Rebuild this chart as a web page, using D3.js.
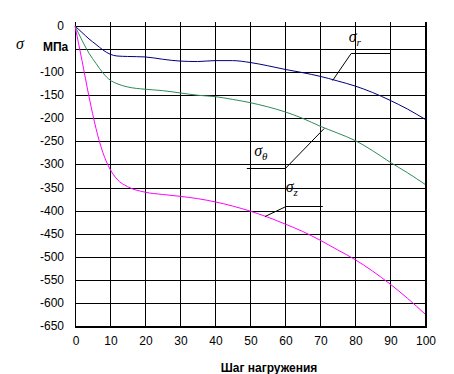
<!DOCTYPE html>
<html>
<head>
    <meta charset="UTF-8">
    <title>Напряжения</title>
    <style>
        body { margin: 0; padding: 0; background: #fff; }
        svg { display: block; }
        .tick-label { font-family: "Liberation Sans", Arial, sans-serif; font-size: 12px; fill: #000; }
        .grid line { stroke: #000; stroke-width: 1px; shape-rendering: crispEdges; }
        .curve { fill: none; stroke-width: 1px; }
        .leader { stroke: #000; stroke-width: 1px; fill: none; }
        .sig { font-family: "Liberation Serif", "Times New Roman", serif; font-style: italic; fill: #000; }
        .title { font-family: "Liberation Sans", Arial, sans-serif; font-size: 12px; font-weight: bold; fill: #000; }
    </style>
    <script src="https://d3js.org/d3.v7.min.js"></script>
</head>
<body>
<div id="chart"></div>
<script>
    // шаг нагружения
    var steps = [0, 2, 4, 6, 8, 10, 12, 15, 20, 25, 30, 35, 40, 45, 50, 55, 60, 65, 70, 75, 80, 85, 90, 95, 100];

    // напряжения, МПа
    var sigmaR = [0, -14, -28, -40, -52, -61, -65, -66, -67, -72, -76, -77, -75, -75, -79, -86, -94, -101, -109, -119, -130, -144, -161, -180, -202];
    var sigmaTheta = [0, -31, -59, -81, -102, -117, -125, -132, -137, -140, -145, -150, -153, -159, -166, -175, -186, -200, -217, -232, -248, -270, -295, -318, -343];
    var sigmaZ = [0, -75, -153, -222, -275, -310, -332, -348, -360, -365, -369, -374, -381, -390, -401, -414, -429, -445, -464, -485, -506, -531, -559, -590, -624];

    var xTicks = [0, 10, 20, 30, 40, 50, 60, 70, 80, 90, 100];
    var yGrid = d3.range(0, -651, -50);
    var yTickLabels = [0, -100, -150, -200, -250, -300, -350, -400, -450, -500, -550, -600, -650];

    var series = [
        {name: "r", values: sigmaR, color: "#000080",
         leader: [[73.6, -118], [78.9, -59], [90.1, -59]], label: [78.2, -35]},
        {name: "θ", values: sigmaTheta, color: "#2e8b57",
         leader: [[71.2, -222], [60.1, -307], [49.1, -307]], label: [51.2, -282]},
        {name: "z", values: sigmaZ, color: "#ff00ff",
         leader: [[54.3, -412], [60.3, -390], [70.8, -390]], label: [60.2, -360]}
    ];

    var W = 454, H = 374;
    var x = d3.scaleLinear().domain([0, 100]).range([75, 425]);
    var y = d3.scaleLinear().domain([0, -650]).range([26, 326]);

    var svg = d3.select("#chart").append("svg")
        .attr("width", W)
        .attr("height", H);

    // grid
    var grid = svg.append("g").attr("class", "grid");
    grid.selectAll(".h").data(yGrid).enter().append("line")
        .attr("x1", x(0)).attr("x2", x(100))
        .attr("y1", function(d) { return Math.round(y(d)) + 0.5; })
        .attr("y2", function(d) { return Math.round(y(d)) + 0.5; });
    grid.selectAll(".v").data(xTicks).enter().append("line")
        .attr("x1", function(d) { return Math.round(x(d)) + 0.5; })
        .attr("x2", function(d) { return Math.round(x(d)) + 0.5; })
        .attr("y1", y(0) - 4).attr("y2", y(-650));

    // thick bottom and right border
    svg.append("line")
        .attr("x1", x(0)).attr("x2", x(100) + 2)
        .attr("y1", Math.round(y(-650)) + 0.5).attr("y2", Math.round(y(-650)) + 0.5)
        .attr("stroke", "#000").attr("stroke-width", 2).attr("shape-rendering", "crispEdges");
    svg.append("line")
        .attr("x1", Math.round(x(100)) + 0.5).attr("x2", Math.round(x(100)) + 0.5)
        .attr("y1", y(0) - 4).attr("y2", y(-650) + 1)
        .attr("stroke", "#000").attr("stroke-width", 2).attr("shape-rendering", "crispEdges");

    // tick labels
    svg.selectAll(".ylab").data(yTickLabels).enter().append("text")
        .attr("class", "tick-label")
        .attr("x", 64)
        .attr("y", function(d) { return y(d) + 4; })
        .attr("text-anchor", "end")
        .text(function(d) { return d; });

    svg.selectAll(".xlab").data(xTicks).enter().append("text")
        .attr("class", "tick-label")
        .attr("x", function(d) { return x(d) + 1; })
        .attr("y", 345)
        .attr("text-anchor", "middle")
        .text(function(d) { return d; });

    // axis captions
    svg.append("text").attr("class", "sig")
        .attr("x", 16).attr("y", 49)
        .style("font-size", "16px")
        .text("σ");
    svg.append("text").attr("class", "title")
        .attr("x", 43).attr("y", 51)
        .text("МПа");
    svg.append("text").attr("class", "title")
        .attr("x", 269).attr("y", 372)
        .attr("text-anchor", "middle")
        .text("Шаг нагружения");

    // curves
    var line = d3.line()
        .x(function(d, i) { return x(steps[i]); })
        .y(function(d) { return y(d); })
        .curve(d3.curveMonotoneX);

    svg.selectAll(".curve").data(series).enter().append("path")
        .attr("class", "curve")
        .attr("stroke", function(d) { return d.color; })
        .attr("d", function(d) { return line(d.values); });

    // leaders and labels
    var leaderLine = d3.line()
        .x(function(d) { return x(d[0]); })
        .y(function(d) { return Math.round(y(d[1])) + 0.5; });

    svg.selectAll(".leader").data(series).enter().append("path")
        .attr("class", "leader")
        .attr("d", function(d) { return leaderLine(d.leader); });

    var labels = svg.selectAll(".lab").data(series).enter().append("text")
        .attr("class", "sig")
        .attr("x", function(d) { return x(d.label[0]); })
        .attr("y", function(d) { return y(d.label[1]); })
        .style("font-size", "16px");
    labels.append("tspan").text("σ");
    labels.append("tspan")
        .attr("dy", 4)
        .style("font-size", "11px")
        .text(function(d) { return d.name; });
</script>
</body>
</html>
